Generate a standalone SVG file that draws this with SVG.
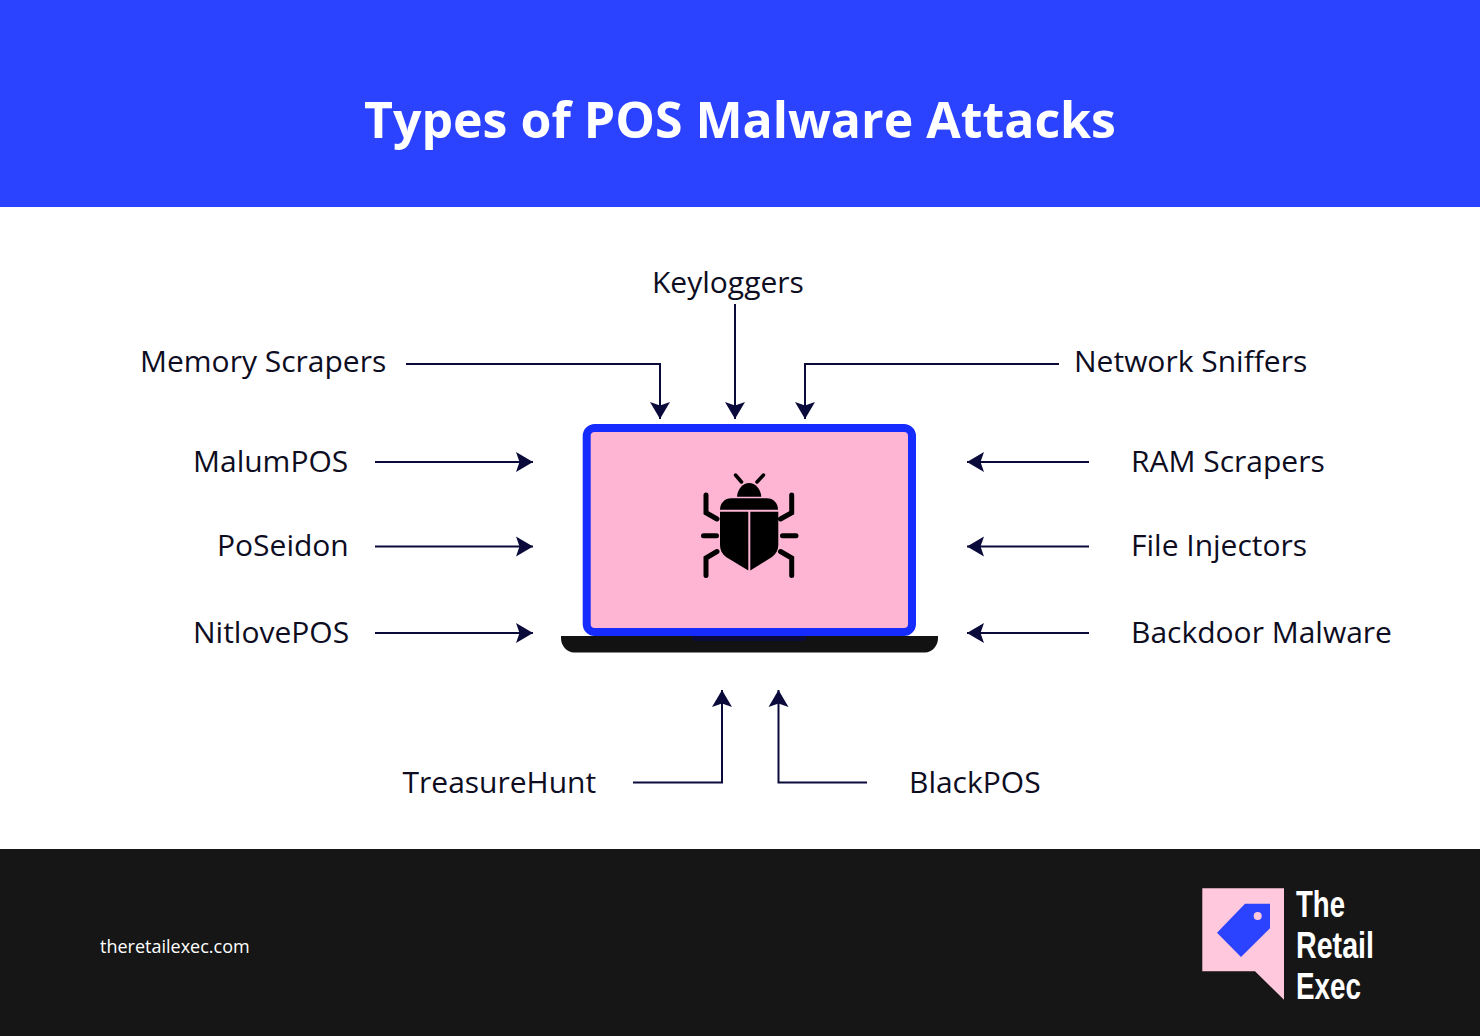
<svg xmlns="http://www.w3.org/2000/svg" width="1480" height="1036" viewBox="0 0 1480 1036">
<style>
text{font-family:"Open Sans","Noto Sans",sans-serif}
.l{font-size:30px;fill:#0d0d1f}
.c{fill:none;stroke:#0b0b3b;stroke-width:2;marker-end:url(#a)}
.b{fill:#000}
.g{fill:none;stroke:#000;stroke-width:5;stroke-linecap:round;stroke-linejoin:miter}
.lg{font-family:"Liberation Sans Narrow","Liberation Sans",sans-serif;font-weight:700;font-size:37px;fill:#fff}
</style>
<defs>
<marker id="a" markerUnits="userSpaceOnUse" markerWidth="20" markerHeight="22" viewBox="0 -11 18 22" refX="17" refY="0" orient="auto">
<path d="M0 -10L17 0L0 10L3.5 0Z" fill="#0b0b3b"/>
</marker>
</defs>
<rect width="1480" height="1036" fill="#fff"/>
<g id="header">
<rect width="1480" height="207" fill="#2b42ff"/>
<text x="740" y="138" text-anchor="middle" font-size="50" font-weight="700" fill="#fff">Types of POS Malware Attacks</text>
</g>
<g id="footer">
<rect y="849" width="1480" height="187" fill="#161616"/>
<text x="100" y="953" font-size="18" fill="#fff">theretailexec.com</text>
</g>
<g id="logo">
<path d="M1202.3 888.3H1284V999.7L1255 971.3H1202.3Z" fill="#ffc8dc"/>
<path d="M1245 903.7H1270V928.3L1241 957L1217 932.7Z" fill="#2b42ff"/>
<circle cx="1257.7" cy="916" r="4" fill="#ffc8dc"/>
<text class="lg" x="1296" y="917" textLength="49" lengthAdjust="spacingAndGlyphs">The</text>
<text class="lg" x="1296" y="958" textLength="78" lengthAdjust="spacingAndGlyphs">Retail</text>
<text class="lg" x="1296" y="999" textLength="65" lengthAdjust="spacingAndGlyphs">Exec</text>
</g>
<g id="laptop">
<path d="M561 636H938V638C938 646 932 652.500 925 652.500H574C567 652.500 561 646 561 638Z" fill="#121212"/>
<path d="M691.500 636H806.500V637C806.500 640 804 641 802 641H696C694 641 691.500 640 691.500 637Z" fill="#0a0a3c"/>
<rect x="586.700" y="428" width="325.300" height="204" rx="8" fill="#fdb5d3" stroke="#162bff" stroke-width="8"/>
</g>
<g id="bug">
<path class="b" d="M737 496.700A12.200 15 0 0 1 761.300 496.700Z"/>
<path class="g" style="stroke-width:3.500" d="M735.500 475L741.500 482M763.500 475L757 482"/>
<path class="b" d="M720 509.700C720 503 725 498.300 731 498.300H767C773 498.300 778 503 778 509.700Z"/>
<path class="b" d="M720 511.700H748.300V570.500L726 557C722 554 720 550 720 545Z"/>
<path class="b" d="M778.300 511.700H750.300V570.500L772 557C776 554 778.300 550 778.300 545Z"/>
<path class="g" d="M706 495V512.700L717 519M791.700 495V512.700L780.500 519M703.500 535.700H716.500M782.500 535.700H796M717 551.500L706 558V575.500M780.500 551.500L791.700 558V575.500"/>
</g>
<g id="connectors">
<path class="c" d="M406 364H660V419"/>
<path class="c" d="M735 304V419"/>
<path class="c" d="M1059 364H805V419"/>
<path class="c" d="M375 462H533"/>
<path class="c" d="M375 546.500H533"/>
<path class="c" d="M375 633H533"/>
<path class="c" d="M1089 462H967"/>
<path class="c" d="M1089 546.500H967"/>
<path class="c" d="M1089 633H967"/>
<path class="c" d="M633 782.500H722V690"/>
<path class="c" d="M867 782.500H778.500V690"/>
</g>
<g id="n-keyloggers"><text class="l" x="652" y="293">Keyloggers</text></g>
<g id="n-memory"><text class="l" x="140" y="372">Memory Scrapers</text></g>
<g id="n-network"><text class="l" x="1074" y="372">Network Sniffers</text></g>
<g id="n-malum"><text class="l" x="193" y="472">MalumPOS</text></g>
<g id="n-poseidon"><text class="l" x="217" y="556">PoSeidon</text></g>
<g id="n-nitlove"><text class="l" x="193" y="643">NitlovePOS</text></g>
<g id="n-ram"><text class="l" x="1131" y="472">RAM Scrapers</text></g>
<g id="n-file"><text class="l" x="1131" y="556">File Injectors</text></g>
<g id="n-backdoor"><text class="l" x="1131" y="643">Backdoor Malware</text></g>
<g id="n-treasure"><text class="l" x="402.500" y="793">TreasureHunt</text></g>
<g id="n-black"><text class="l" x="909" y="793">BlackPOS</text></g>
</svg>
